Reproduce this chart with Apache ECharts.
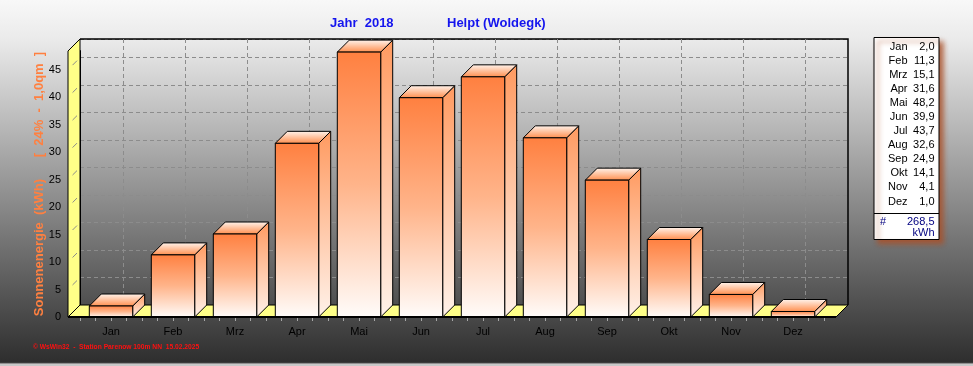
<!DOCTYPE html>
<html>
<head>
<meta charset="utf-8">
<script src="https://cdn.jsdelivr.net/npm/echarts@6/dist/echarts.min.js"></script>
<style>
html,body{margin:0;padding:0;}
#c{width:973px;height:366px;background:linear-gradient(to bottom,#f8f8f8 0%,#eaeaea 11%,#bbbbbb 33%,#747474 66%,#2e2e2e 99%,#c8c8c8 99.5%);}
</style>
</head>
<body>
<div id="c"></div>
<script>
// ---- data ----
const months = ['Jan','Feb','Mrz','Apr','Mai','Jun','Jul','Aug','Sep','Okt','Nov','Dez'];
const energy = [2.0, 11.3, 15.1, 31.6, 48.2, 39.9, 43.7, 32.6, 24.9, 14.1, 4.1, 1.0];
const yTicks = [0, 5, 10, 15, 20, 25, 30, 35, 40, 45];
const yMax = 48.4;
const titleYear = 'Jahr  2018';
const titleStation = 'Helpt (Woldegk)';
const yName = 'Sonnenenergie  (kWh)      [  24%  -  1,0qm  ]';
const footer = '\u00A9 WsWin32  -  Station Parenow 100m NN  15.02.2025';
const unit = 'kWh';

// ---- layout ----
const GL = 80, GT = 51, GW = 744, GH = 266, D = 12;
const FONT = 'Liberation Sans, Arial, sans-serif';

const chart = echarts.init(document.getElementById('c'), null, {renderer:'canvas'});

function fmt(v){ return v.toFixed(1).replace('.', ','); }
const total = energy.reduce((a,b)=>a+b,0);

function grad(stops){
  return new echarts.graphic.LinearGradient(0,0,0,1, stops.map(c=>({offset:c[0], color:c[1]})));
}

function renderBar(params, api){
  const i = api.value(0), v = api.value(1);
  const top = api.coord([i, v]);
  const base = api.coord([i, 0]);
  const bw = api.size([1, 0])[0];
  const hw = bw * 0.35;
  const x0 = top[0] - hw, x1 = top[0] + hw, yt = top[1], yb = base[1];
  const stroke = {stroke:'#000', lineWidth:1};
  return {
    type:'group',
    children:[
      {type:'polygon', shape:{points:[[x1,yt],[x1+D,yt-D],[x1+D,yb-D],[x1,yb]]},
        style:Object.assign({fill:grad([[0,'#ff9a60'],[1,'#fff2ea']])}, stroke)},
      {type:'polygon', shape:{points:[[x0,yt],[x0+D,yt-D],[x1+D,yt-D],[x1,yt]]},
        style:Object.assign({fill:grad([[0,'#fff6f0'],[1,'#ff8c4a']])}, stroke)},
      {type:'rect', shape:{x:x0, y:yt, width:x1-x0, height:yb-yt},
        style:Object.assign({fill:grad([[0,'#ff8040'],[0.5,'#ffb48a'],[1,'#fffcfa']])}, stroke)}
    ]
  };
}

function renderWalls(params, api){
  const cs = params.coordSys;
  const x = cs.x, y = cs.y, w = cs.width, h = cs.height;
  const fl = x - D, fr = x + w + D, bl = x, br = x + w + 2*D;
  const yb = y + h, yt = y;
  return {
    type:'group',
    children:[
      {type:'polygon', shape:{points:[[fl,yt],[bl,yt-D],[bl,yb-D],[fl,yb]]}, style:{fill:'#ffff88', stroke:'#000', lineWidth:1}},
      {type:'polygon', shape:{points:[[fl,yb],[bl,yb-D],[br,yb-D],[fr,yb]]}, style:{fill:'#ffff88', stroke:'#000', lineWidth:1}},
      {type:'polyline', shape:{points:[[bl,yt-D],[br,yt-D],[br,yb-D]]}, style:{stroke:'#000', lineWidth:1.5, fill:null}}
    ]
  };
}

function renderVGrid(params, api){
  const cs = params.coordSys;
  const p = api.coord([api.value(0), 0]);
  const xx = Math.round(p[0] + D) + 0.5;
  return {type:'line', shape:{x1:xx, y1:cs.y - D, x2:xx, y2:cs.y + cs.height - D},
    style:{stroke:'#8c8c8c', lineWidth:1, lineDash:[4,3]}};
}

function renderWallTicks(params, api){
  const cs = params.coordSys;
  const v = api.value(0);
  if (v === 0) return null;
  const p = api.coord([0, v]);
  const fx = cs.x - D, y = p[1];
  return {type:'line', shape:{x1:fx + D*0.38, y1:y - D*0.38, x2:fx + D*0.75, y2:y - D*0.75},
    style:{stroke:'#8c8c8c', lineWidth:1}};
}

// legend box texts
const legendChildren = [];
const LX = 874, LY = 37.5, LW = 65, LH = 202, ROW0 = 46.5, ROWH = 14.09;
legendChildren.push({type:'rect', shape:{x:LX, y:LY, width:LW, height:LH},
  style:{fill:'#fff', stroke:'#000', lineWidth:1, shadowBlur:5, shadowOffsetX:4, shadowOffsetY:4, shadowColor:'rgba(170,80,40,0.85)'}});
months.forEach((m,k)=>{
  legendChildren.push({type:'text', style:{text:m, x:907.5, y:ROW0 + k*ROWH, textAlign:'right', textVerticalAlign:'middle', fill:'#000', font:'11px '+FONT}});
  legendChildren.push({type:'text', style:{text:fmt(energy[k]), x:934.5, y:ROW0 + k*ROWH, textAlign:'right', textVerticalAlign:'middle', fill:'#000', font:'11px '+FONT}});
});
legendChildren.push({type:'line', shape:{x1:LX, y1:213.5, x2:LX+LW, y2:213.5}, style:{stroke:'#000', lineWidth:1}});
legendChildren.push({type:'text', style:{text:'#', x:880, y:221.5, textAlign:'left', textVerticalAlign:'middle', fill:'#000080', font:'11px '+FONT}});
legendChildren.push({type:'text', style:{text:fmt(total), x:934.5, y:221.5, textAlign:'right', textVerticalAlign:'middle', fill:'#000080', font:'11px '+FONT}});
legendChildren.push({type:'text', style:{text:unit, x:934.5, y:233, textAlign:'right', textVerticalAlign:'middle', fill:'#000080', font:'11px '+FONT}});

const option = {
  animation:false,
  backgroundColor:'transparent',
  textStyle:{fontFamily:FONT},
  title:[
    {text:titleYear, left:330, top:17, padding:0, textStyle:{color:'#1414ee', fontSize:13, fontWeight:'bold', fontFamily:FONT}},
    {text:titleStation, left:447, top:17, padding:0, textStyle:{color:'#1414ee', fontSize:13, fontWeight:'bold', fontFamily:FONT}}
  ],
  grid:[
    {left:GL, top:GT, width:GW, height:GH},
    {left:GL, top:GT - D, width:GW + 2*D, height:GH}
  ],
  xAxis:[
    {gridIndex:0, type:'category', data:months, position:'bottom',
      axisLine:{show:false}, axisTick:{show:false}, splitLine:{show:false},
      axisLabel:{margin:9, fontSize:11, color:'#000', fontFamily:FONT}},
    {gridIndex:0, type:'value', min:0, max:12, interval:0.25, position:'bottom',
      axisLine:{show:false}, axisTick:{show:true, length:4, lineStyle:{color:'#a8a8a8'}},
      axisLabel:{show:false}, splitLine:{show:false}},
    {gridIndex:1, type:'value', min:0, max:1, show:false}
  ],
  yAxis:[
    {gridIndex:0, type:'value', min:0, max:yMax, interval:5, offset:D,
      axisLine:{show:true, lineStyle:{color:'#000', width:2}},
      axisTick:{show:true, length:4, lineStyle:{color:'#222'}, customValues:yTicks},
      axisLabel:{margin:7, fontSize:11, color:'#000', fontFamily:FONT, customValues:yTicks},
      splitLine:{show:false},
      name:yName, nameLocation:'middle', nameGap:22, nameRotate:90, nameMoveOverlap:false,
      nameTextStyle:{color:'#ff8040', fontWeight:'bold', fontSize:13, fontFamily:FONT}},
    {gridIndex:1, type:'value', min:0, max:yMax, interval:5,
      axisLine:{show:false}, axisTick:{show:false}, axisLabel:{show:false},
      splitLine:{show:true, lineStyle:{color:'#8c8c8c', type:[4,3], width:1}}}
  ],
  series:[
    {type:'custom', name:'walls', xAxisIndex:0, yAxisIndex:0, z:1, silent:true,
      renderItem:renderWalls, data:[[0,0]]},
    {type:'custom', name:'vgrid', xAxisIndex:0, yAxisIndex:0, z:1, silent:true,
      renderItem:renderVGrid, data:months.map((m,k)=>[k])},
    {type:'custom', name:'wallTicks', xAxisIndex:0, yAxisIndex:0, z:1, silent:true,
      renderItem:renderWallTicks, data:yTicks.map(v=>[v]), encode:{y:0}},
    {type:'custom', name:'Sonnenenergie', xAxisIndex:0, yAxisIndex:0, z:3,
      renderItem:renderBar, data:energy.map((v,k)=>[k,v])}
  ],
  graphic:[
    {type:'line', z:100, shape:{x1:GL - D, y1:GT + GH, x2:GL + GW + D, y2:GT + GH}, style:{stroke:'#000', lineWidth:2}},
    {type:'line', z:100, shape:{x1:GL + GW + D, y1:GT + GH, x2:GL + GW + 2*D, y2:GT + GH - D}, style:{stroke:'#000', lineWidth:1}},
    {type:'text', z:100, style:{text:footer, x:33, y:347.5, textVerticalAlign:'middle', fill:'#ff1010', font:'bold 6.7px '+FONT}},
    {type:'group', z:100, children:legendChildren}
  ]
};
chart.setOption(option);
</script>
</body>
</html>
